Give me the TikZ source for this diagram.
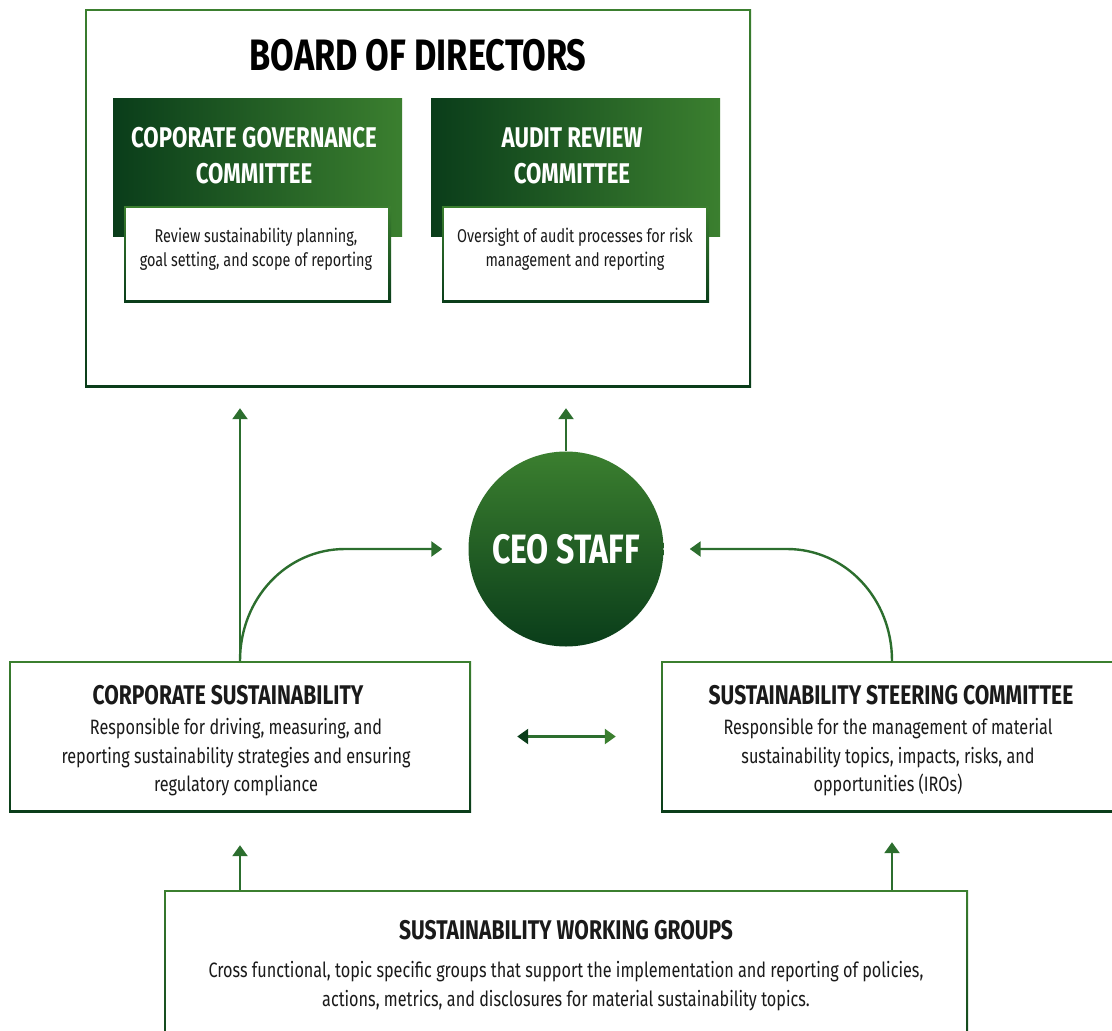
\documentclass[tikz,border=0pt]{standalone}
\usepackage{fontspec}
\setmainfont{Fira Sans}[FakeStretch=0.78]
\usetikzlibrary{arrows.meta,calc}
\definecolor{lg}{HTML}{3B7F2F}
\definecolor{dg}{HTML}{0A3D1A}
\definecolor{mg}{HTML}{2C6E2E}
\definecolor{ink}{HTML}{1A1A1A}
\begin{document}
\begin{tikzpicture}[x=1pt,y=-1pt,
  % framed box with a vertical green gradient border
  gbox/.style={rectangle, inner sep=0pt, top color=lg, bottom color=dg,
    path picture={\fill[white]
      ([shift={(2.4pt,2.4pt)}]path picture bounding box.south west) rectangle
      ([shift={(-2.4pt,-2.4pt)}]path picture bounding box.north east);}},
  thinbox/.style={gbox, path picture={\fill[white]
      ([shift={(1.8pt,2.6pt)}]path picture bounding box.south west) rectangle
      ([shift={(-2.6pt,-1.6pt)}]path picture bounding box.north east);}},
  header/.style={rectangle, inner sep=0pt, left color=dg, right color=lg},
  bigtitle/.style={text=black, font=\fontsize{44}{50}\selectfont\bfseries},
  headtext/.style={text=white, align=center, font=\fontsize{28.5}{36}\selectfont\bfseries},
  smalltext/.style={text=ink, align=center, font=\fontsize{18.5}{24.3}\selectfont},
  boxtitle/.style={text=ink, font=\fontsize{27}{30}\selectfont\bfseries},
  bodytext/.style={text=ink, align=center, font=\fontsize{20.8}{28.5}\selectfont},
  conn/.style={draw=mg, line width=2.4pt, -{Triangle[width=15pt,length=11pt]}},
]
\useasboundingbox (0,0) rectangle (1112,1031);
\clip (0,0) rectangle (1112,1031);

% Board of directors with its two committees
\node[gbox, minimum width=666pt, minimum height=378pt] (board) at (418,198) {};
\node[bigtitle] (boardtitle) at (418,55) {BOARD OF DIRECTORS};

\node[header, minimum width=289pt, minimum height=138pt] (cgc) at (257.5,167) {};
\node[headtext] (cgctext) at (254,156) {COPORATE GOVERNANCE\\COMMITTEE};
\node[thinbox, minimum width=267pt, minimum height=96pt] (cgcbox) at (257.5,254.5) {};
\node[smalltext] (cgcdesc) at (256,249) {Review sustainability planning,\\goal setting, and scope of reporting};

\node[header, minimum width=289pt, minimum height=138pt] (arc) at (575.5,167) {};
\node[headtext] (arctext) at (572,156) {AUDIT REVIEW\\COMMITTEE};
\node[thinbox, minimum width=267pt, minimum height=96pt] (arcbox) at (575.5,254.5) {};
\node[smalltext] (arcdesc) at (575,249) {Oversight of audit processes for risk\\management and reporting};

% CEO staff
\node[circle, inner sep=0pt, minimum size=195pt, top color=lg, bottom color=dg] (ceo) at (566,549) {};
\node[text=white, font=\fontsize{41}{46}\selectfont\bfseries] (ceotext) at (566,549) {CEO STAFF};

% Corporate sustainability
\node[gbox, minimum width=462pt, minimum height=151pt] (cs) at (240,736.5) {};
\node[boxtitle] (cstitle) at (228,695) {CORPORATE SUSTAINABILITY};
\node[bodytext] (csdesc) at (236,757.5) {Responsible for driving, measuring, and\\reporting sustainability strategies and ensuring\\regulatory compliance};

% Sustainability steering committee
\node[gbox, minimum width=462pt, minimum height=151pt] (ss) at (892,736.5) {};
\node[boxtitle] (sstitle) at (891,695) {SUSTAINABILITY STEERING COMMITTEE};
\node[bodytext] (ssdesc) at (888,757.5) {Responsible for the management of material\\sustainability topics, impacts, risks, and\\opportunities (IROs)};

% Sustainability working groups
\node[gbox, minimum width=804pt, minimum height=170pt] (wg) at (566,975) {};
\node[boxtitle] (wgtitle) at (566,930) {SUSTAINABILITY WORKING GROUPS};
\node[bodytext] (wgdesc) at (566,986) {Cross functional, topic specific groups that support the implementation and reporting of policies,\\actions, metrics, and disclosures for material sustainability topics.};

% Reporting lines
\draw[conn, shorten >=21pt] (cs.north) -- (cs.north |- board.south);
\draw[conn, shorten >=21pt] (ceo.north) -- (ceo.north |- board.south);
\coordinate (csbend) at (345,549);
\coordinate (ssbend) at (787,549);
\draw[conn] (cs.north) .. controls (240,598) and (287,549) .. (csbend) -- ([xshift=-26pt]ceo.west);
\draw[conn] (ss.north) .. controls (892,598) and (845,549) .. (ssbend) -- ([xshift=26pt]ceo.east);
\draw[conn, shorten >=33pt] (wg.north -| cs.south) -- (cs.south);
\draw[conn, shorten >=30pt] (wg.north -| ss.south) -- (ss.south);
\draw[draw=mg, line width=2.4pt, {Triangle[width=15pt,length=11pt,color=dg]}-{Triangle[width=15pt,length=11pt,color=lg]},
  shorten <=46pt, shorten >=45pt] (cs.east) -- (ss.west);
\end{tikzpicture}
\end{document}
